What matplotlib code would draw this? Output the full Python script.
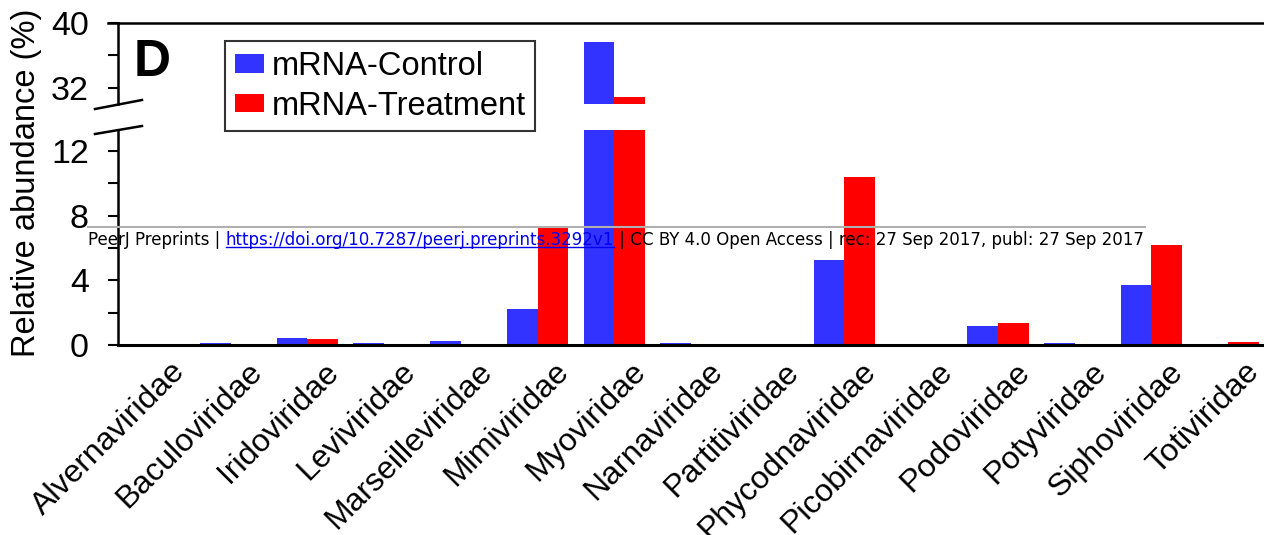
import numpy as np
import matplotlib.pyplot as plt
from matplotlib.lines import Line2D
from matplotlib.patches import Patch
from matplotlib.transforms import ScaledTranslation

families = ['Alvernaviridae', 'Baculoviridae', 'Iridoviridae', 'Leviviridae',
            'Marseilleviridae', 'Mimiviridae', 'Myoviridae', 'Narnaviridae',
            'Partitiviridae', 'Phycodnaviridae', 'Picobirnaviridae', 'Podoviridae',
            'Potyviridae', 'Siphoviridae', 'Totiviridae']
control = [0.0, 0.1, 0.43, 0.1, 0.25, 2.2, 37.6, 0.1, 0.0, 5.26, 0.0, 1.15, 0.1, 3.7, 0.0]
treatment = [0.0, 0.0, 0.37, 0.0, 0.0, 7.25, 30.8, 0.0, 0.0, 10.39, 0.0, 1.35, 0.0, 6.18, 0.2]

blue = '#3333ff'
red = '#ff0000'

plt.rcParams['font.family'] = ['Liberation Sans', 'DejaVu Sans']

W, H = 1264, 535
fig = plt.figure(figsize=(W / 100, H / 100), dpi=100)
fig.patch.set_facecolor('white')

left = 118 / W
ax_hi = fig.add_axes([left, 1 - 104 / H, 1 - left, (104 - 22.7) / H])
ax_lo = fig.add_axes([left, 1 - 345 / H, 1 - left, (345 - 130) / H])

x = np.arange(len(families))
w = 0.4
for ax in (ax_hi, ax_lo):
    ax.bar(x - w / 2, control, w, color=blue, linewidth=0)
    ax.bar(x + w / 2, treatment, w, color=red, linewidth=0)
    ax.set_xlim(-0.47, 14.47)
    ax.spines['right'].set_visible(False)
    ax.spines['left'].set_linewidth(1.8)
    ax.tick_params(axis='y', direction='out', length=7, width=1.5, labelsize=24.5, pad=14)
    ax.tick_params(axis='y', which='minor', direction='out', length=7, width=1.5)

ax_hi.set_ylim(30, 40)
ax_hi.set_yticks([32, 40])
ax_hi.set_yticks([36], minor=True)
ax_hi.spines['bottom'].set_visible(False)
ax_hi.spines['top'].set_linewidth(1.8)
ax_hi.set_xticks([])

ax_lo.set_ylim(0, 13.3)
ax_lo.set_yticks([0, 4, 8, 12])
ax_lo.set_yticks([2, 6, 10], minor=True)
ax_lo.spines['top'].set_visible(False)
ax_lo.spines['bottom'].set_linewidth(2.2)
ax_lo.set_xticks(x)
ax_lo.set_xticklabels(families, rotation=45, ha='right', va='center',
                      rotation_mode='anchor', fontsize=23)
ax_lo.tick_params(axis='x', length=0, pad=6)
shift = ScaledTranslation(27 / 100, -14 / 100, fig.dpi_scale_trans)
for lab in ax_lo.get_xticklabels():
    lab.set_transform(lab.get_transform() + shift)

# top spine of the upper panel starts a little left of the axis
fig.add_artist(Line2D([108 / W, left], [1 - 22.7 / H] * 2, color='black', lw=1.8))

# break marks across the y axis
for y0, y1 in ((109, 100), (134, 126)):
    fig.add_artist(Line2D([95 / W, 142 / W], [1 - y0 / H, 1 - y1 / H],
                          color='black', lw=1.8))

fig.text(27 / W, 1 - 183 / H, 'Relative abundance (%)', rotation=90,
         ha='center', va='center', fontsize=23.5)
fig.text(134 / W, 1 - 62 / H, 'D', fontsize=37, fontweight='bold',
         ha='left', va='center')

handles = [Patch(facecolor=blue, label='mRNA-Control'),
           Patch(facecolor=red, label='mRNA-Treatment')]
leg = fig.legend(handles=handles, loc='upper left',
                 bbox_to_anchor=(225 / W, 1 - 41 / H), fontsize=23.5,
                 frameon=True, fancybox=False, edgecolor='black',
                 handlelength=0.9, handleheight=0.5, handletextpad=0.22,
                 labelspacing=0.27, borderpad=0.3, borderaxespad=0)
leg.get_frame().set_linewidth(1.5)

# preprint footer strip
fig.add_artist(Line2D([88 / W, 1145 / W], [1 - 227 / H] * 2, color='#b0b0b0', lw=1.5))
pieces = [('PeerJ Preprints | ', 'black', False),
          ('https://doi.org/10.7287/peerj.preprints.3292v1', '#0000ee', True),
          (' | CC BY 4.0 Open Access | rec: 27 Sep 2017, publ: 27 Sep 2017', 'black', False)]
renderer = fig.canvas.get_renderer()
xpos = 88 / W
for s, c, under in pieces:
    t = fig.text(xpos, 1 - 240 / H, s, color=c, fontsize=13.3,
                 family='DejaVu Sans', stretch='condensed', ha='left', va='center')
    bb = t.get_window_extent(renderer)
    if under:
        fig.add_artist(Line2D([bb.x0 / W, bb.x1 / W], [(bb.y0 + 2) / H] * 2,
                              color=c, lw=1))
    xpos = bb.x1 / W

fig.savefig('out.png', dpi=100)
